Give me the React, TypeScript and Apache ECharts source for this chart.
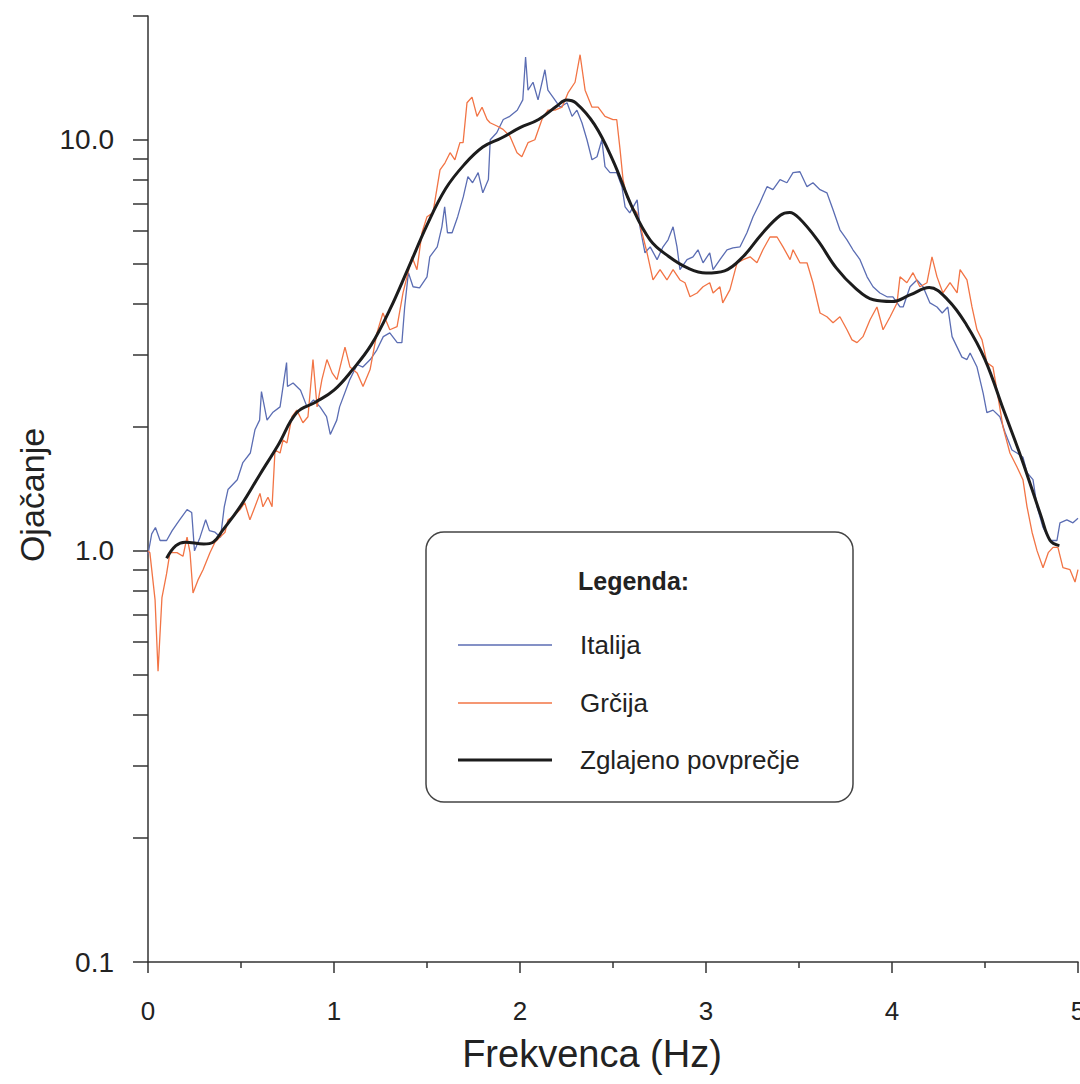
import React, { useEffect, useRef } from "react";
import * as echarts from "echarts";

const FONT = "'Liberation Sans', Arial, Helvetica, sans-serif";

// Frequency (Hz) and amplification values
const italijaHz = [
  0.0, 0.02, 0.04, 0.065, 0.1, 0.13, 0.17, 0.21, 0.235, 0.25,
  0.28, 0.31, 0.33, 0.36, 0.39, 0.41, 0.43, 0.48, 0.51, 0.55,
  0.575, 0.6, 0.61, 0.64, 0.67, 0.71, 0.745, 0.75, 0.78, 0.82,
  0.855, 0.89, 0.925, 0.96, 0.98, 1.015, 1.03, 1.085, 1.125, 1.155,
  1.195, 1.23, 1.265, 1.3, 1.34, 1.365, 1.38, 1.4, 1.425, 1.46,
  1.5, 1.515, 1.555, 1.58, 1.595, 1.61, 1.635, 1.665, 1.695, 1.72,
  1.745, 1.775, 1.8, 1.83, 1.84, 1.875, 1.91, 1.945, 1.985, 2.015,
  2.03, 2.043, 2.07, 2.097, 2.134, 2.15, 2.177, 2.215, 2.253, 2.28,
  2.306, 2.333, 2.36, 2.387, 2.414, 2.44, 2.457, 2.484, 2.52, 2.548,
  2.565, 2.59, 2.63, 2.645, 2.672, 2.7, 2.737, 2.769, 2.796, 2.823,
  2.844, 2.86, 2.898, 2.93, 2.957, 2.984, 3.02, 3.038, 3.075, 3.113,
  3.145, 3.183, 3.22, 3.253, 3.29, 3.328, 3.36, 3.398, 3.435, 3.468,
  3.505, 3.543, 3.575, 3.613, 3.65, 3.683, 3.72, 3.758, 3.79, 3.828,
  3.866, 3.898, 3.935, 3.973, 4.005, 4.043, 4.06, 4.097, 4.134, 4.167,
  4.204, 4.242, 4.27, 4.3, 4.323, 4.35, 4.376, 4.403, 4.42, 4.457,
  4.49, 4.51, 4.543, 4.58, 4.608, 4.645, 4.672, 4.704, 4.726, 4.758,
  4.78, 4.812, 4.85, 4.887, 4.903, 4.94, 4.973, 5.0,
];
const italijaVal = [
  0.98, 1.1, 1.14, 1.06, 1.06, 1.12, 1.19, 1.26, 1.24, 1.0,
  1.08, 1.19, 1.12, 1.11, 1.08, 1.28, 1.41, 1.49, 1.64, 1.73,
  1.97, 2.08, 2.44, 2.08, 2.17, 2.24, 2.87, 2.51, 2.56, 2.46,
  2.24, 2.33, 2.24, 2.12, 1.92, 2.08, 2.24, 2.61, 2.84, 2.8,
  2.92, 3.08, 3.32, 3.39, 3.21, 3.21, 3.92, 4.75, 4.39, 4.36,
  4.64, 5.19, 5.49, 6.14, 6.87, 5.94, 5.94, 6.5, 7.26, 8.13,
  7.86, 8.32, 7.43, 8.0, 10.0, 10.4, 11.2, 11.4, 11.8, 12.5,
  15.9, 13.2, 13.8, 12.5, 14.8, 13.2, 12.7, 12.0, 12.3, 11.4,
  11.8, 11.0, 10.0, 8.94, 9.09, 10.0, 8.6, 8.32, 8.32, 7.69,
  6.87, 6.64, 7.14, 6.14, 5.31, 5.49, 5.11, 5.49, 5.71, 6.14,
  5.49, 4.83, 5.11, 5.19, 5.4, 5.02, 5.31, 4.83, 5.11, 5.4,
  5.46, 5.49, 5.94, 6.5, 7.03, 7.69, 7.56, 8.0, 7.86, 8.32,
  8.36, 7.69, 7.86, 7.56, 7.43, 6.76, 6.04, 5.71, 5.4, 5.11,
  4.64, 4.39, 4.24, 4.15, 4.15, 3.92, 3.92, 4.39, 4.56, 4.39,
  4.01, 3.92, 3.79, 3.92, 3.32, 3.13, 2.96, 2.92, 3.03, 2.8,
  2.42, 2.17, 2.2, 2.12, 1.94, 1.76, 1.73, 1.69, 1.55, 1.49,
  1.28, 1.14, 1.06, 1.06, 1.17, 1.19, 1.17, 1.2,
];

const grcijaHz = [
  0.0, 0.01, 0.038, 0.054, 0.075, 0.1, 0.118, 0.156, 0.188, 0.21, 0.226,
  0.242, 0.269, 0.296, 0.333, 0.36, 0.387, 0.414, 0.43, 0.457, 0.495,
  0.52, 0.548, 0.575, 0.602, 0.618, 0.645, 0.667, 0.683, 0.71, 0.726,
  0.747, 0.774, 0.8, 0.833, 0.86, 0.887, 0.909, 0.935, 0.962, 0.99,
  1.016, 1.059, 1.086, 1.124, 1.156, 1.194, 1.231, 1.263, 1.3, 1.339,
  1.371, 1.419, 1.446, 1.473, 1.5, 1.532, 1.57, 1.597, 1.624, 1.65,
  1.677, 1.694, 1.715, 1.742, 1.769, 1.796, 1.823, 1.839, 1.876, 1.909,
  1.946, 1.984, 2.01, 2.043, 2.08, 2.118, 2.15, 2.188, 2.226, 2.258,
  2.296, 2.323, 2.35, 2.387, 2.42, 2.457, 2.5, 2.52, 2.538, 2.554,
  2.575, 2.602, 2.629, 2.656, 2.683, 2.715, 2.753, 2.79, 2.823, 2.86,
  2.887, 2.914, 2.952, 2.984, 3.02, 3.038, 3.075, 3.09, 3.129, 3.167,
  3.2, 3.237, 3.274, 3.306, 3.344, 3.382, 3.414, 3.452, 3.468, 3.505,
  3.543, 3.575, 3.613, 3.65, 3.683, 3.72, 3.758, 3.785, 3.812, 3.844,
  3.882, 3.919, 3.952, 3.99, 4.027, 4.043, 4.08, 4.113, 4.15, 4.188,
  4.215, 4.242, 4.274, 4.312, 4.35, 4.366, 4.403, 4.43, 4.457, 4.484,
  4.51, 4.543, 4.57, 4.597, 4.634, 4.672, 4.704, 4.726, 4.753, 4.78,
  4.812, 4.84, 4.866, 4.892, 4.919, 4.957, 4.984, 5.0,
];
const grcijaVal = [
  1.0, 0.99, 0.76, 0.51, 0.77, 0.88, 0.99, 0.99, 0.97, 1.08, 0.99,
  0.79, 0.85, 0.9, 0.99, 1.05, 1.08, 1.11, 1.19, 1.21, 1.26,
  1.31, 1.19, 1.28, 1.38, 1.28, 1.35, 1.28, 1.76, 1.73, 1.86,
  1.83, 2.12, 2.2, 2.05, 2.12, 2.92, 2.24, 2.61, 2.92, 2.71,
  2.61, 3.13, 2.8, 2.71, 2.51, 2.76, 3.39, 3.79, 3.45, 3.51,
  4.24, 5.19, 4.83, 5.94, 6.5, 6.64, 8.45, 8.79, 9.3, 8.94,
  9.84, 9.84, 12.3, 12.7, 11.4, 12.0, 11.2, 11.0, 10.8, 10.6,
  10.2, 9.3, 9.09, 9.84, 10.0, 11.2, 11.8, 11.8, 12.0, 13.0,
  13.8, 16.1, 13.2, 12.0, 12.0, 11.4, 11.2, 11.2, 9.46, 8.0,
  7.26, 6.87, 6.64, 5.94, 5.31, 4.56, 4.83, 4.56, 4.83, 4.56,
  4.49, 4.15, 4.24, 4.39, 4.49, 4.24, 4.39, 4.01, 4.32, 5.02,
  5.11, 5.19, 5.02, 5.4, 5.8, 5.8, 5.49, 5.11, 5.4, 5.02,
  5.02, 4.49, 3.79, 3.71, 3.59, 3.71, 3.45, 3.26, 3.21, 3.32,
  3.65, 3.92, 3.45, 3.71, 4.01, 4.64, 4.49, 4.75, 4.39, 4.49,
  5.19, 4.64, 4.24, 4.49, 4.24, 4.83, 4.56, 3.92, 3.45, 3.26,
  2.87, 2.8, 2.37, 2.0, 1.73, 1.6, 1.49, 1.28, 1.11, 1.0,
  0.91, 0.99, 1.02, 1.02, 0.91, 0.9, 0.84, 0.9,
];

const smoothHz = [
  0.1, 0.15, 0.2, 0.3, 0.35, 0.4, 0.5, 0.6, 0.7, 0.8, 0.9, 1.0, 1.1, 1.2,
  1.3, 1.4, 1.5, 1.6, 1.7, 1.8, 1.9, 2.0, 2.1, 2.2, 2.25, 2.3, 2.4, 2.5,
  2.6, 2.7, 2.8, 2.9, 3.0, 3.1, 3.2, 3.3, 3.4, 3.45, 3.5, 3.6, 3.7, 3.8,
  3.9, 4.0, 4.1, 4.2, 4.3, 4.4, 4.5, 4.6, 4.7, 4.8, 4.85, 4.9,
];
const smoothVal = [
  0.96, 1.03, 1.05, 1.04, 1.05, 1.12, 1.29, 1.53, 1.81, 2.17, 2.3, 2.46, 2.76, 3.17,
  3.86, 4.88, 6.2, 7.6, 8.7, 9.6, 10.1, 10.7, 11.2, 12.1, 12.5, 12.3, 10.9, 8.9,
  6.9, 5.7, 5.2, 4.88, 4.74, 4.8, 5.2, 5.9, 6.55, 6.65, 6.45, 5.7, 4.88, 4.37,
  4.08, 4.04, 4.2, 4.37, 4.08, 3.55, 2.92, 2.2, 1.66, 1.22, 1.06, 1.03,
];

const xTickLabels = ["0", "1", "2", "3", "4", "5"];
const yLabelValues = [0.1, 1, 10];
const yTickValues = [
  0.1, 0.2, 0.3, 0.4, 0.5, 0.6, 0.7, 0.8, 0.9,
  1, 2, 3, 4, 5, 6, 7, 8, 9, 10, 20,
];

const seriesNames = ["Italija", "Grčija", "Zglajeno povprečje"];
const seriesColors = ["#5b6db3", "#f27445", "#1c1c1c"];
const seriesWidths = [1.3, 1.3, 3];

const zip = (xs: number[], ys: number[]) => {
  const n = Math.min(xs.length, ys.length);
  const out: number[][] = [];
  for (let i = 0; i < n; i++) out.push([xs[i], ys[i]]);
  return out;
};

export default function App() {
  const ref = useRef<HTMLDivElement>(null);

  useEffect(() => {
    document.documentElement.style.overflow = "hidden";
    document.body.style.margin = "0";
    if (!ref.current) return;
    const chart = echarts.init(ref.current, undefined, {
      renderer: "svg",
      width: 1080,
      height: 1084,
    });
    const axisColor = "#333";

    const legendRows = [645, 703, 760];
    const legendGraphics: any[] = [];
    seriesNames.forEach((name, i) => {
      legendGraphics.push({
        type: "line",
        shape: { x1: 458, y1: legendRows[i], x2: 552, y2: legendRows[i] },
        style: { stroke: seriesColors[i], lineWidth: seriesWidths[i] },
        z: 10,
      });
      legendGraphics.push({
        type: "text",
        x: 580,
        y: legendRows[i],
        style: {
          text: name,
          font: `26px ${FONT}`,
          fill: "#222",
          textAlign: "left",
          textVerticalAlign: "middle",
        },
        z: 10,
      });
    });

    chart.setOption({
      animation: false,
      backgroundColor: "#ffffff",
      grid: {
        left: 148,
        right: 2,
        top: 16,
        bottom: 122,
        containLabel: false,
        outerBoundsMode: "none",
      },
      xAxis: {
        type: "value",
        min: 0,
        max: 5,
        interval: 1,
        axisLine: { show: true, onZero: false, lineStyle: { color: axisColor, width: 1.5 } },
        axisTick: { show: true, length: 11, lineStyle: { color: axisColor, width: 1.5 } },
        minorTick: { show: true, splitNumber: 2, length: 6, lineStyle: { color: axisColor, width: 1.5 } },
        splitLine: { show: false },
        minorSplitLine: { show: false },
        axisLabel: {
          margin: 36,
          fontSize: 26,
          fontFamily: FONT,
          color: "#222",
          hideOverlap: false,
          formatter: (v: number) => xTickLabels[Math.round(v)] ?? "",
        },
      },
      yAxis: {
        type: "log",
        logBase: 10,
        min: 0.1,
        max: 20,
        axisLine: { show: true, lineStyle: { color: axisColor, width: 1.5 } },
        axisTick: {
          show: true,
          length: 15,
          customValues: yTickValues,
          lineStyle: { color: axisColor, width: 1.5 },
        },
        splitLine: { show: false },
        axisLabel: {
          margin: 34,
          fontSize: 28,
          fontFamily: FONT,
          color: "#222",
          customValues: yLabelValues,
          formatter: (v: number) => Number(v).toFixed(1),
        },
      },
      graphic: [
        {
          type: "rect",
          shape: { x: 426, y: 532, width: 427, height: 270, r: 18 },
          style: { fill: "none", stroke: "#444", lineWidth: 1.5 },
          z: 10,
        },
        {
          type: "text",
          x: 578,
          y: 581,
          style: {
            text: "Legenda:",
            font: `bold 25px ${FONT}`,
            fill: "#222",
            textAlign: "left",
            textVerticalAlign: "middle",
          },
          z: 10,
        },
        ...legendGraphics,
        {
          type: "text",
          x: 32,
          y: 495,
          rotation: Math.PI / 2,
          style: {
            text: "Ojačanje",
            font: `34px ${FONT}`,
            fill: "#222",
            textAlign: "center",
            textVerticalAlign: "middle",
          },
        },
        {
          type: "text",
          x: 592,
          y: 1054,
          style: {
            text: "Frekvenca (Hz)",
            font: `38px ${FONT}`,
            fill: "#222",
            textAlign: "center",
            textVerticalAlign: "middle",
          },
        },
      ],
      series: [
        {
          name: seriesNames[0],
          type: "line",
          data: zip(italijaHz, italijaVal),
          symbol: "none",
          lineStyle: { color: seriesColors[0], width: seriesWidths[0] },
          itemStyle: { color: seriesColors[0] },
          z: 2,
        },
        {
          name: seriesNames[1],
          type: "line",
          data: zip(grcijaHz, grcijaVal),
          symbol: "none",
          lineStyle: { color: seriesColors[1], width: seriesWidths[1] },
          itemStyle: { color: seriesColors[1] },
          z: 3,
        },
        {
          name: seriesNames[2],
          type: "line",
          data: zip(smoothHz, smoothVal),
          symbol: "none",
          smooth: 0.4,
          lineStyle: { color: seriesColors[2], width: seriesWidths[2] },
          itemStyle: { color: seriesColors[2] },
          z: 4,
        },
      ],
    });
    return () => chart.dispose();
  }, []);

  return (
    <div
      ref={ref}
      style={{ position: "absolute", left: 0, top: 0, width: 1080, height: 1084 }}
    />
  );
}
